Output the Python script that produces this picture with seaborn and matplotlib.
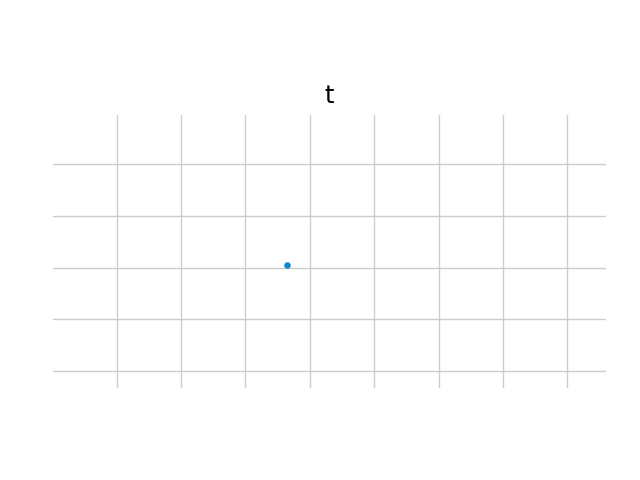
import matplotlib
matplotlib.use("Agg")
import matplotlib.pyplot as plt
import seaborn as sns
import pandas as pd

# single observation
x_vals = [2.65]
y_vals = [2.04]
x_ticks = [0, 1, 2, 3, 4, 5, 6, 7]
y_ticks = [0, 1, 2, 3, 4]

sns.set_style("whitegrid")
df = pd.DataFrame({"x": x_vals, "y": y_vals})

fig = plt.figure(figsize=(6.4, 4.8), dpi=100)
ax = fig.add_axes([53 / 640, 1 - 388 / 480, 553 / 640, 273 / 480])
sns.scatterplot(data=df, x="x", y="y", ax=ax, color="#0f87cf", s=22, linewidth=0)

ax.set_xlim(-0.99, 7.6)
ax.set_ylim(-0.33, 4.95)
ax.set_xticks(x_ticks)
ax.set_yticks(y_ticks)
ax.set_xticklabels([])
ax.set_yticklabels([])
ax.set_xlabel("")
ax.set_ylabel("")
ax.tick_params(length=0)
for s in ax.spines.values():
    s.set_visible(False)
ax.grid(color="#cccccc", linewidth=1)
ax.set_title("t", fontsize=17.5, pad=8.5, color="black")

fig.savefig("out.png", dpi=100)
